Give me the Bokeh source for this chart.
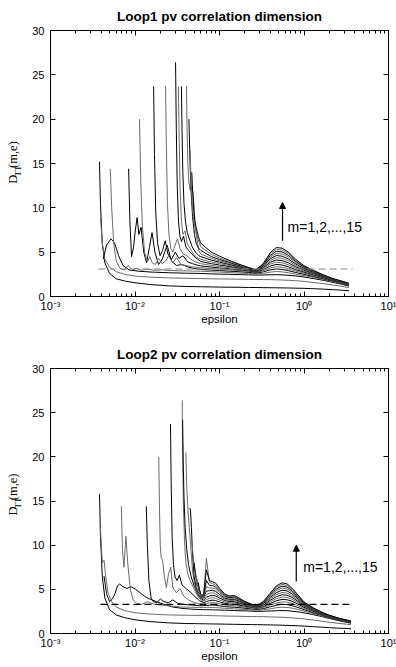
import math
from bokeh.plotting import figure
from bokeh.models import (FixedTicker, LogAxis, LinearAxis, Label, Arrow, NormalHead,
                          CustomJSTickFormatter, Range1d)
from bokeh.layouts import column, row
from bokeh.embed import file_html
from bokeh.resources import INLINE

# ---------------- axis data ----------------
X_TICKS = [0.001, 0.01, 0.1, 1.0, 10.0]
X_TICK_LABELS = ["10\u207b\u00b3", "10\u207b\u00b2", "10\u207b\u00b9", "10\u2070", "10\u00b9"]
X_MINOR = [k * 10.0 ** e for e in range(-3, 1) for k in range(2, 10)]
Y_TICKS = [0, 5, 10, 15, 20, 25, 30]

TITLES = ["Loop1 pv correlation dimension", "Loop2 pv correlation dimension"]
Y_LABEL_PARTS = ["D", "TT", "(m,e)"]
X_LABEL = "epsilon"
ANNOT = "m=1,2,...,15"

# ---------------- panel 1 (Loop1) ----------------
P1_HEAD_EPS = [
    [0.0038, 0.0039, 0.0041, 0.0044, 0.005, 0.006, 0.0075, 0.01, 0.015, 0.025, 0.04],
    [0.0039, 0.0041, 0.0044, 0.005, 0.006, 0.0075, 0.01, 0.015, 0.025, 0.04],
    [0.0042, 0.0046, 0.0052, 0.0057, 0.0064, 0.0072, 0.0085, 0.011, 0.016, 0.025, 0.04],
    [0.0051, 0.0053, 0.0056, 0.006, 0.0066, 0.0075, 0.0083, 0.0092, 0.0105, 0.012, 0.014, 0.017, 0.021, 0.027, 0.035, 0.046],
    [0.0084, 0.0087, 0.0091, 0.0096, 0.0101, 0.0106, 0.0111, 0.0118, 0.0127, 0.0137, 0.0148, 0.0159, 0.0172, 0.019, 0.021, 0.024, 0.027, 0.031, 0.036, 0.043, 0.05],
    [0.0113, 0.0117, 0.0122, 0.013, 0.014, 0.015, 0.016, 0.0175, 0.019, 0.021, 0.023, 0.025, 0.028, 0.031, 0.035, 0.04, 0.047],
    [0.0166, 0.017, 0.0176, 0.0185, 0.0198, 0.0212, 0.0228, 0.0245, 0.027, 0.03, 0.033, 0.037, 0.042, 0.048, 0.054],
    [0.023, 0.0235, 0.0242, 0.0252, 0.0265, 0.028, 0.0298, 0.0318, 0.0342, 0.037, 0.041, 0.046, 0.052],
    [0.0302, 0.0308, 0.0316, 0.0327, 0.034, 0.0355, 0.0375, 0.04, 0.043, 0.047, 0.052, 0.057],
    [0.0326, 0.0333, 0.0342, 0.0355, 0.037, 0.039, 0.0415, 0.045, 0.049, 0.054],
    [0.0354, 0.036, 0.0368, 0.038, 0.0395, 0.0415, 0.044, 0.0475, 0.052, 0.057],
    [0.0407, 0.0413, 0.0422, 0.0435, 0.045, 0.047, 0.049, 0.051, 0.054, 0.057],
    [0.0435, 0.0445, 0.046, 0.048, 0.0505, 0.053, 0.056],
    [0.045, 0.046, 0.0475, 0.0495, 0.052, 0.055, 0.058],
    [0.047, 0.048, 0.0495, 0.051, 0.053, 0.056, 0.058],
]
P1_HEAD_D = [
    [15.2, 10.5, 6.0, 3.8, 2.6, 2.0, 1.75, 1.55, 1.35, 1.2, 1.13],
    [9.0, 6.0, 4.2, 3.3, 2.8, 2.5, 2.3, 2.18, 2.1, 2.05],
    [4.2, 5.8, 6.5, 6.1, 4.6, 3.5, 3.0, 2.85, 2.75, 2.68, 2.63],
    [14.4, 10.0, 6.0, 4.0, 3.2, 3.0, 3.5, 3.0, 3.2, 2.95, 3.1, 2.95, 3.0, 2.92, 2.9, 2.87],
    [14.4, 8.5, 4.5, 5.5, 7.5, 8.9, 7.0, 7.8, 5.0, 3.8, 5.5, 7.2, 5.0, 3.6, 4.2, 5.8, 4.0, 3.5, 3.6, 3.3, 3.15],
    [20.0, 13.0, 8.0, 5.0, 3.9, 4.5, 3.8, 3.6, 4.3, 3.7, 4.0, 4.6, 3.8, 4.4, 3.6, 3.5, 3.35],
    [23.7, 16.0, 9.5, 6.0, 4.6, 5.2, 6.3, 4.8, 4.2, 5.0, 4.3, 4.6, 3.9, 3.7, 3.55],
    [23.7, 17.0, 10.5, 7.0, 5.4, 5.0, 5.8, 6.5, 5.4, 4.8, 4.6, 4.2, 3.9],
    [26.4, 19.0, 12.5, 8.5, 6.8, 6.2, 6.8, 5.6, 5.2, 4.8, 4.4, 4.1],
    [23.7, 18.0, 12.0, 8.5, 7.0, 7.4, 6.0, 5.4, 4.8, 4.4],
    [23.7, 19.0, 14.0, 10.5, 8.5, 7.2, 6.5, 5.6, 5.0, 4.6],
    [23.7, 19.0, 15.0, 12.8, 12.0, 12.4, 11.5, 8.5, 6.5, 5.2],
    [20.0, 16.0, 12.0, 9.0, 7.0, 6.0, 5.5],
    [16.5, 13.0, 10.5, 8.6, 7.4, 6.6, 6.0],
    [14.0, 12.0, 10.0, 8.6, 7.8, 6.8, 6.4],
]
P1_TAIL_EPS = [0.06, 0.08, 0.1, 0.13, 0.17, 0.22, 0.27, 0.33, 0.4, 0.47, 0.55, 0.65, 0.8, 1.0, 1.3, 1.7, 2.2, 2.8, 3.4]
P1_TAIL_D = [
    [1.10, 1.08, 1.06, 1.05, 1.04, 1.02, 1.01, 1.00, 0.99, 0.98, 0.97, 0.96, 0.94, 0.92, 0.88, 0.83, 0.77, 0.71, 0.65],
    [2.02, 2.00, 1.98, 1.97, 1.95, 1.93, 1.92, 1.91, 1.90, 1.88, 1.86, 1.83, 1.78, 1.70, 1.58, 1.45, 1.30, 1.15, 1.00],
    [2.60, 2.55, 2.52, 2.50, 2.47, 2.44, 2.42, 2.43, 2.45, 2.46, 2.44, 2.40, 2.32, 2.20, 2.02, 1.82, 1.60, 1.38, 1.18],
    [2.85, 2.80, 2.75, 2.70, 2.65, 2.60, 2.55, 2.62, 2.75, 2.82, 2.78, 2.68, 2.52, 2.36, 2.15, 1.92, 1.68, 1.45, 1.23],
    [3.05, 2.98, 2.92, 2.86, 2.80, 2.72, 2.64, 2.78, 3.00, 3.10, 3.05, 2.92, 2.70, 2.50, 2.26, 2.00, 1.74, 1.50, 1.27],
    [3.25, 3.15, 3.08, 3.00, 2.92, 2.82, 2.70, 2.92, 3.22, 3.36, 3.30, 3.14, 2.86, 2.63, 2.35, 2.07, 1.79, 1.54, 1.30],
    [3.45, 3.32, 3.22, 3.12, 3.02, 2.90, 2.75, 3.04, 3.44, 3.62, 3.55, 3.36, 3.02, 2.75, 2.44, 2.13, 1.83, 1.57, 1.33],
    [3.70, 3.50, 3.38, 3.25, 3.12, 2.97, 2.80, 3.15, 3.65, 3.88, 3.80, 3.58, 3.18, 2.87, 2.52, 2.18, 1.86, 1.60, 1.35],
    [3.95, 3.70, 3.55, 3.38, 3.22, 3.03, 2.84, 3.26, 3.86, 4.12, 4.05, 3.80, 3.34, 2.98, 2.60, 2.23, 1.89, 1.62, 1.37],
    [4.20, 3.90, 3.72, 3.50, 3.30, 3.08, 2.88, 3.36, 4.06, 4.38, 4.30, 4.02, 3.50, 3.08, 2.67, 2.27, 1.92, 1.64, 1.39],
    [4.50, 4.10, 3.88, 3.62, 3.38, 3.12, 2.91, 3.44, 4.26, 4.62, 4.55, 4.24, 3.66, 3.17, 2.73, 2.31, 1.94, 1.66, 1.41],
    [4.80, 4.30, 4.02, 3.74, 3.45, 3.16, 2.94, 3.52, 4.44, 4.86, 4.80, 4.46, 3.80, 3.25, 2.79, 2.35, 1.96, 1.68, 1.43],
    [5.20, 4.50, 4.18, 3.85, 3.52, 3.20, 2.96, 3.60, 4.62, 5.10, 5.03, 4.66, 3.94, 3.33, 2.84, 2.38, 1.98, 1.70, 1.45],
    [5.60, 4.75, 4.35, 3.96, 3.58, 3.24, 2.98, 3.66, 4.80, 5.32, 5.25, 4.85, 4.06, 3.40, 2.89, 2.41, 2.00, 1.72, 1.47],
    [6.00, 5.00, 4.55, 4.08, 3.65, 3.28, 3.00, 3.72, 4.96, 5.52, 5.45, 5.02, 4.18, 3.47, 2.93, 2.44, 2.02, 1.74, 1.49],
]
P1_DASH_X = [0.0037, 3.75]
P1_DASH_Y = 3.1
P1_ARROW_X = 0.557
P1_ARROW_Y = [6.3, 10.6]
P1_TEXT_XY = [0.64, 7.8]

# ---------------- panel 2 (Loop2) ----------------
P2_HEAD_EPS = [
    [0.0038, 0.0039, 0.0041, 0.0044, 0.005, 0.006, 0.0075, 0.01, 0.015, 0.025, 0.04, 0.055],
    [0.0039, 0.0041, 0.0043, 0.0045, 0.0048, 0.0053, 0.006, 0.0075, 0.01, 0.015, 0.025, 0.04, 0.055],
    [0.0043, 0.0046, 0.005, 0.0054, 0.0058, 0.0062, 0.0066, 0.0072, 0.008, 0.009, 0.0102, 0.0115, 0.013, 0.015, 0.018, 0.022, 0.028, 0.036, 0.046, 0.056],
    [0.0069, 0.0071, 0.0074, 0.0078, 0.0082, 0.0088, 0.0095, 0.0105, 0.012, 0.014, 0.017, 0.021, 0.027, 0.035, 0.045, 0.056],
    [0.0136, 0.014, 0.0146, 0.0155, 0.0165, 0.018, 0.02, 0.022, 0.025, 0.028, 0.032, 0.037, 0.043, 0.05, 0.058],
    [0.0191, 0.0195, 0.0199, 0.0204, 0.0212, 0.0222, 0.0235, 0.025, 0.0265, 0.028, 0.031, 0.034, 0.038, 0.043, 0.05, 0.058],
    [0.0263, 0.0268, 0.0275, 0.0285, 0.0298, 0.0315, 0.0335, 0.036, 0.04, 0.045, 0.051, 0.058],
    [0.0362, 0.0367, 0.0374, 0.0385, 0.04, 0.042, 0.045, 0.049, 0.054, 0.06],
    [0.0366, 0.0372, 0.038, 0.0392, 0.041, 0.043, 0.046, 0.05, 0.055, 0.061],
    [0.040, 0.0408, 0.042, 0.0435, 0.0455, 0.048, 0.051, 0.055, 0.059],
    [0.0445, 0.0453, 0.0465, 0.048, 0.05, 0.053, 0.057, 0.061],
    [0.047, 0.049, 0.0515, 0.054, 0.057, 0.061],
    [0.05, 0.052, 0.055, 0.058, 0.061],
    [0.053, 0.0555, 0.058, 0.0605],
    [0.056, 0.058, 0.06, 0.062],
]
P2_HEAD_D = [
    [15.8, 11.0, 6.5, 4.0, 2.7, 2.1, 1.8, 1.55, 1.35, 1.2, 1.13, 1.11],
    [12.0, 8.0, 8.3, 6.5, 4.6, 3.6, 3.0, 2.6, 2.35, 2.2, 2.1, 2.07, 2.05],
    [6.5, 4.5, 3.6, 3.9, 4.5, 5.4, 5.6, 5.3, 5.1, 5.3, 5.0, 4.6, 4.2, 3.9, 3.6, 3.3, 3.0, 2.85, 2.76, 2.72],
    [14.4, 9.5, 7.5, 11.0, 8.0, 5.0, 3.8, 3.4, 3.3, 3.6, 3.3, 3.2, 3.1, 3.0, 2.97, 2.95],
    [14.4, 10.0, 6.0, 4.0, 3.6, 3.5, 3.9, 3.6, 3.5, 3.8, 3.4, 3.3, 3.25, 3.2, 3.15],
    [20.0, 14.0, 10.0, 8.6, 8.3, 6.5, 5.2, 6.8, 7.5, 5.2, 4.6, 5.1, 4.2, 3.8, 3.5, 3.38],
    [23.7, 17.0, 11.0, 7.8, 6.4, 6.0, 6.6, 5.5, 5.1, 4.7, 4.2, 3.7],
    [26.4, 20.0, 14.5, 10.5, 8.0, 6.8, 6.0, 5.2, 4.4, 3.8],
    [24.2, 19.5, 15.5, 12.0, 9.5, 7.8, 6.5, 5.4, 4.5, 3.9],
    [20.5, 17.0, 14.5, 12.5, 10.0, 7.0, 5.5, 4.5, 4.0],
    [14.2, 14.0, 12.0, 9.0, 6.5, 5.2, 4.3, 4.0],
    [10.5, 8.5, 6.8, 5.2, 4.4, 4.0],
    [8.0, 6.8, 5.6, 4.6, 4.1],
    [6.5, 5.6, 4.8, 4.2],
    [5.8, 5.0, 4.5, 4.3],
]
P2_TAIL_EPS = [0.065, 0.07, 0.076, 0.083, 0.09, 0.1, 0.115, 0.13, 0.15, 0.17, 0.2, 0.24, 0.28,
               0.33, 0.4, 0.47, 0.55, 0.63, 0.72, 0.85, 1.0, 1.25, 1.6, 2.0, 2.6, 3.6]
P2_TAIL_D = [
    [1.10, 1.10, 1.09, 1.08, 1.08, 1.07, 1.06, 1.05, 1.04, 1.03, 1.02, 1.01, 1.00, 0.99, 0.97, 0.96, 0.94, 0.92, 0.90, 0.87, 0.84, 0.78, 0.72, 0.66, 0.60, 0.55],
    [2.05, 2.04, 2.03, 2.02, 2.01, 2.00, 1.98, 1.97, 1.96, 1.95, 1.93, 1.92, 1.91, 1.90, 1.88, 1.86, 1.84, 1.81, 1.77, 1.72, 1.65, 1.54, 1.40, 1.27, 1.14, 1.00],
    [2.70, 2.70, 2.69, 2.68, 2.67, 2.66, 2.64, 2.62, 2.60, 2.58, 2.56, 2.53, 2.50, 2.52, 2.55, 2.58, 2.60, 2.58, 2.53, 2.45, 2.34, 2.16, 1.93, 1.70, 1.44, 1.16],
    [2.95, 2.95, 2.95, 2.95, 2.93, 2.90, 2.86, 2.82, 2.79, 2.76, 2.72, 2.67, 2.62, 2.68, 2.80, 2.92, 2.98, 2.95, 2.88, 2.72, 2.54, 2.30, 2.03, 1.76, 1.49, 1.19],
    [3.15, 3.18, 3.20, 3.22, 3.20, 3.13, 3.06, 3.00, 2.97, 2.93, 2.86, 2.78, 2.72, 2.82, 3.02, 3.20, 3.30, 3.27, 3.16, 2.94, 2.70, 2.40, 2.10, 1.81, 1.52, 1.22],
    [3.35, 3.40, 3.45, 3.50, 3.46, 3.36, 3.24, 3.17, 3.14, 3.08, 2.98, 2.88, 2.80, 2.94, 3.22, 3.45, 3.58, 3.55, 3.42, 3.14, 2.84, 2.49, 2.15, 1.85, 1.55, 1.24],
    [3.50, 3.62, 3.72, 3.78, 3.72, 3.58, 3.42, 3.33, 3.30, 3.22, 3.09, 2.96, 2.87, 3.05, 3.40, 3.70, 3.86, 3.82, 3.66, 3.32, 2.97, 2.57, 2.20, 1.88, 1.57, 1.26],
    [3.65, 3.85, 3.98, 4.05, 3.98, 3.80, 3.58, 3.48, 3.46, 3.35, 3.18, 3.03, 2.93, 3.15, 3.58, 3.94, 4.12, 4.08, 3.88, 3.48, 3.08, 2.64, 2.24, 1.91, 1.59, 1.28],
    [3.80, 4.10, 4.25, 4.32, 4.25, 4.02, 3.74, 3.62, 3.60, 3.47, 3.27, 3.09, 2.98, 3.24, 3.76, 4.17, 4.38, 4.33, 4.10, 3.64, 3.18, 2.70, 2.28, 1.94, 1.61, 1.30],
    [3.95, 4.40, 4.55, 4.60, 4.50, 4.22, 3.88, 3.75, 3.74, 3.58, 3.35, 3.14, 3.02, 3.32, 3.92, 4.40, 4.64, 4.58, 4.30, 3.78, 3.27, 2.76, 2.31, 1.96, 1.63, 1.32],
    [4.10, 4.80, 4.85, 4.88, 4.76, 4.42, 4.02, 3.87, 3.87, 3.68, 3.42, 3.18, 3.06, 3.40, 4.08, 4.62, 4.90, 4.82, 4.50, 3.92, 3.35, 2.81, 2.34, 1.98, 1.65, 1.34],
    [4.20, 5.30, 5.15, 5.15, 5.02, 4.62, 4.15, 3.98, 4.00, 3.78, 3.48, 3.22, 3.09, 3.47, 4.22, 4.84, 5.14, 5.05, 4.68, 4.05, 3.42, 2.86, 2.37, 2.00, 1.67, 1.36],
    [4.30, 6.00, 5.45, 5.42, 5.26, 4.80, 4.27, 4.08, 4.12, 3.87, 3.53, 3.25, 3.12, 3.53, 4.36, 5.04, 5.36, 5.26, 4.85, 4.16, 3.48, 2.90, 2.40, 2.02, 1.69, 1.38],
    [4.40, 8.50, 5.80, 5.65, 5.48, 4.98, 4.38, 4.17, 4.22, 3.95, 3.58, 3.28, 3.15, 3.58, 4.48, 5.22, 5.56, 5.45, 5.00, 4.26, 3.53, 2.94, 2.42, 2.04, 1.71, 1.40],
    [4.50, 7.20, 6.00, 5.85, 5.70, 5.14, 4.48, 4.25, 4.30, 4.02, 3.62, 3.31, 3.17, 3.62, 4.58, 5.38, 5.74, 5.62, 5.13, 4.35, 3.58, 2.97, 2.44, 2.06, 1.73, 1.42],
]
P2_DASH_X = [0.0039, 3.75]
P2_DASH_Y = 3.3
P2_ARROW_X = 0.81
P2_ARROW_Y = [5.9, 10.0]
P2_TEXT_XY = [0.98, 7.5]

LINE_COLORS = ["#000000", "#6a6a6a"]
DASH_COLORS = ["#8c8c8c", "#000000"]
FONT = "Liberation Sans"

YLAB_W = 26


def style_axis(ax, labels=True):
    ax.axis_line_color = "black"
    ax.major_tick_in = 5
    ax.major_tick_out = 0
    ax.minor_tick_in = 3
    ax.minor_tick_out = 0
    ax.major_tick_line_color = "black"
    ax.minor_tick_line_color = "black"
    ax.major_label_text_font = FONT
    ax.major_label_text_font_size = "11px"
    ax.major_label_text_color = "black"
    if not labels:
        ax.formatter = CustomJSTickFormatter(code="return '';")
        ax.major_label_standoff = 0


def make_ylabel(height, center_from_top):
    q = figure(width=YLAB_W, height=height, x_range=Range1d(0, YLAB_W),
               y_range=Range1d(0, height), output_backend="svg", toolbar_location=None,
               x_axis_location=None, y_axis_location=None, title=None,
               min_border_left=0, min_border_right=0, min_border_top=0, min_border_bottom=0)
    q.grid.visible = False
    q.outline_line_color = None
    cy = height - center_from_top
    ang = math.pi / 2
    q.text(x=[12.5], y=[cy - 25], text=[Y_LABEL_PARTS[0]], angle=ang, text_font=FONT,
           text_font_size="12.5px", text_align="left", text_baseline="middle", text_color="black")
    q.text(x=[17.5], y=[cy - 16], text=[Y_LABEL_PARTS[1]], angle=ang, text_font=FONT,
           text_font_size="9px", text_align="left", text_baseline="middle", text_color="black")
    q.text(x=[12.5], y=[cy - 5.5], text=[Y_LABEL_PARTS[2]], angle=ang, text_font=FONT,
           text_font_size="12.5px", text_align="left", text_baseline="middle", text_color="black")
    return q


def make_panel(idx, head_eps, head_d, tail_eps, tail_d, dash_x, dash_y,
               arrow_x, arrow_y, text_xy, height, b_top, b_bottom):
    p = figure(width=396 - YLAB_W, height=height, x_axis_type="log",
               x_range=Range1d(1e-3, 1e1), y_range=Range1d(0, 30),
               output_backend="svg", toolbar_location=None, title=TITLES[idx],
               min_border_left=50 - YLAB_W, min_border_right=8,
               min_border_top=b_top, min_border_bottom=b_bottom)
    p.grid.visible = False
    p.outline_line_color = "black"
    p.outline_line_alpha = 1.0
    p.background_fill_color = "white"
    p.border_fill_color = "white"

    p.title.align = "center"
    p.title.text_font = FONT
    p.title.text_font_size = "13.5px"
    p.title.text_font_style = "bold"
    p.title.text_color = "black"
    p.title.standoff = 13

    xt = FixedTicker(ticks=X_TICKS, minor_ticks=X_MINOR)
    yt = FixedTicker(ticks=Y_TICKS)

    xa = p.xaxis[0]
    xa.ticker = xt
    xa.major_label_overrides = {t: s for t, s in zip(X_TICKS, X_TICK_LABELS)}
    style_axis(xa)
    xa.major_label_standoff = 3
    xa.axis_label = X_LABEL
    xa.axis_label_text_font = FONT
    xa.axis_label_text_font_size = "11.5px"
    xa.axis_label_text_font_style = "normal"
    xa.axis_label_text_color = "black"
    xa.axis_label_standoff = -2

    ya = p.yaxis[0]
    ya.ticker = yt
    style_axis(ya)
    ya.minor_tick_line_color = None
    ya.major_label_standoff = 6

    top = LogAxis(ticker=xt)
    style_axis(top, labels=False)
    p.add_layout(top, "above")
    right = LinearAxis(ticker=yt)
    style_axis(right, labels=False)
    right.minor_tick_line_color = None
    p.add_layout(right, "right")

    for m in range(len(head_eps)):
        xs = head_eps[m] + tail_eps
        ys = head_d[m] + tail_d[m]
        p.line(xs, ys, line_color=LINE_COLORS[m % 2], line_width=1)

    p.line(dash_x, [dash_y, dash_y], line_color=DASH_COLORS[idx], line_width=1.2,
           line_dash="7 4")

    p.add_layout(Arrow(end=NormalHead(size=6, fill_color="black", line_color="black"),
                       x_start=arrow_x, y_start=arrow_y[0], x_end=arrow_x, y_end=arrow_y[1],
                       line_color="black", line_width=1.2))
    p.add_layout(Label(x=text_xy[0], y=text_xy[1], text=ANNOT, text_font=FONT,
                       text_font_size="14px", text_baseline="middle", text_align="left",
                       text_color="black"))
    return p


p1 = make_panel(0, P1_HEAD_EPS, P1_HEAD_D, P1_TAIL_EPS, P1_TAIL_D, P1_DASH_X, P1_DASH_Y,
                P1_ARROW_X, P1_ARROW_Y, P1_TEXT_XY, 330, 29, 34)
p2 = make_panel(1, P2_HEAD_EPS, P2_HEAD_D, P2_TAIL_EPS, P2_TAIL_D, P2_DASH_X, P2_DASH_Y,
                P2_ARROW_X, P2_ARROW_Y, P2_TEXT_XY, 337, 38, 34)
q1 = make_ylabel(330, 165)
q2 = make_ylabel(337, 162)

layout = column(row(q1, p1, spacing=0), row(q2, p2, spacing=0), spacing=0)
open("out.html", "w").write(file_html(layout, INLINE))
